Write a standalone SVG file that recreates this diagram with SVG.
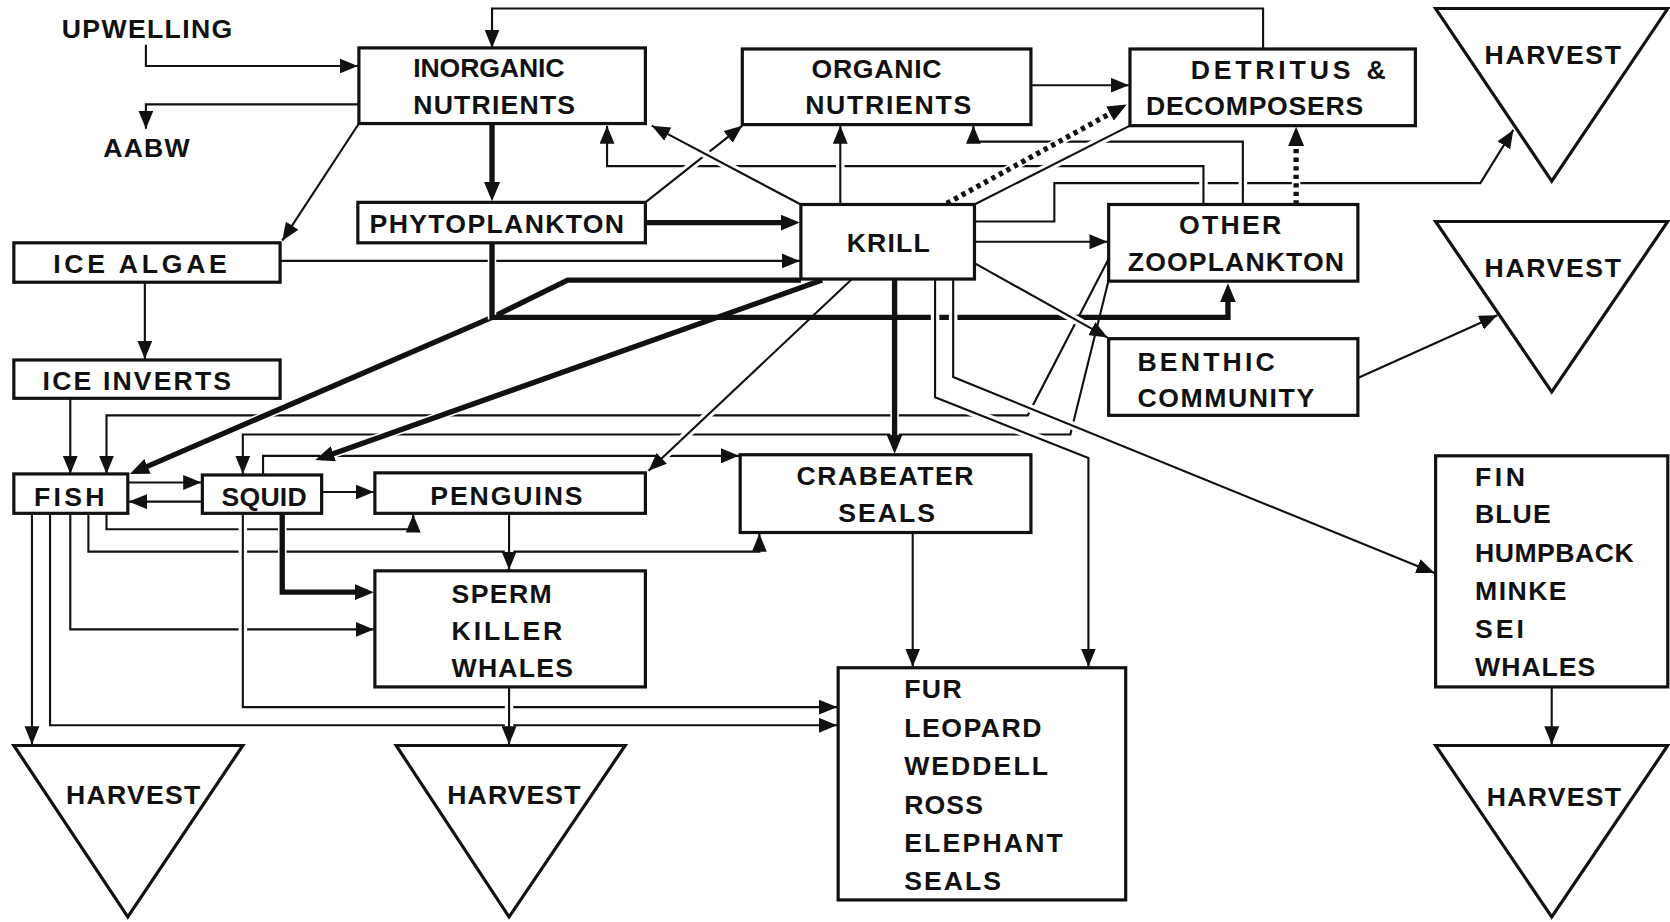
<svg xmlns="http://www.w3.org/2000/svg" width="1670" height="922" viewBox="0 0 1670 922">
<style>
.b{fill:#fff;stroke:#111;stroke-width:3}
.t{font-family:"Liberation Sans",Arial,sans-serif;font-weight:bold;font-size:25px;fill:#111}
.c{fill:none;stroke:#111;stroke-width:2}
.k{fill:none;stroke:#111;stroke-width:5}
.d{fill:none;stroke:#111;stroke-width:5;stroke-dasharray:4 4}
.h{fill:none;stroke:#fff;stroke-width:8}
.a{marker-end:url(#a)}
.ak{marker-end:url(#ak)}
</style>
<defs>
<marker id="a" markerUnits="userSpaceOnUse" viewBox="0 0 17 14" markerWidth="17" markerHeight="14" refX="17" refY="7" orient="auto"><path d="M0,0 L17,7 L0,14 Z" fill="#111"/></marker>
<marker id="ak" markerUnits="userSpaceOnUse" viewBox="0 0 18 15" markerWidth="18" markerHeight="15" refX="12" refY="7.5" orient="auto"><path d="M0,0 L18,7.5 L0,15 Z" fill="#111"/></marker>
</defs>
<rect width="1670" height="922" fill="#fff"/>
<g transform="scale(1.065)">
<g id="connectors">
<path class="c a" d="M137,42 V62 H336"/>
<path class="c a" d="M337,98 H137 V121"/>
<path class="c a" d="M1186,46 V8 H462 V45"/>
<path class="c a" d="M968,80 H1060"/>
<path class="c a" d="M915,208 H990 V172 H1390 L1421,122"/>
<path class="c a" d="M915,227 H1040"/>
<path class="c a" d="M263,245 H751"/>
<path class="c a" d="M1041,243 L965,390 H100 V445"/>
<path class="c a" d="M1041,263 L1005,408 H228 V445"/>
<path class="c a" d="M100,482 V497 H388 V483"/>
<path class="c a" d="M83,482 V518 H713 V501"/>
<path class="c a" d="M66,482 V591 H351"/>
<path class="c a" d="M47,482 V681 H786"/>
<path class="c a" d="M247,446 V428 H694"/>

<path class="h" d="M1130,192 V156 H570 V118"/><path class="c a" d="M1130,192 V156 H570 V118"/>
<path class="h" d="M1167,192 V133 H914 V118"/><path class="c a" d="M1167,192 V133 H914 V118"/>
<path class="h" d="M789,192 V118"/><path class="c a" d="M789,192 V118"/>
<path class="h" d="M606,190 L697,118"/><path class="c a" d="M606,190 L697,118"/>
<path class="h" d="M752,192 L612,118"/><path class="c a" d="M752,192 L612,118"/>
<path class="h" d="M889,191 L1052.7,100.9"/><path class="d ak" d="M889,191 L1052.7,100.9"/>
<path class="h" d="M915,192 L1061,118"/><path class="c" d="M915,192 L1061,118"/>
<path class="h" d="M1217,192 V125"/><path class="d ak" d="M1217,192 V125"/>
<path class="h" d="M337,116 L265,226"/><path class="c a" d="M337,116 L265,226"/>
<path class="k ak" d="M462,116 V183"/>
<path class="k ak" d="M606,209 H745"/>
<path class="c a" d="M136,265 V337"/>
<path class="c a" d="M66,374 V445"/>
<path class="c a" d="M120,453 H189"/>
<path class="c a" d="M190,471 H121"/>
<path class="c a" d="M302,462 H351"/>
<path class="h" d="M752,263 H533 L462,298 L127.5,442.6"/><path class="k ak" d="M752,263 H533 L462,298 L127.5,442.6"/>
<path class="h" d="M772,263 L301.7,430"/><path class="k ak" d="M772,263 L301.7,430"/>
<path class="h" d="M800,262 L609,442"/><path class="c a" d="M800,262 L609,442"/>
<path class="h" d="M840,262 V420"/><path class="k ak" d="M840,262 V420"/>
<path class="h" d="M462,228 V300"/><path class="k" d="M462,228 V300.5"/>
<path class="k ak" d="M462,298 H1153 V272"/>
<path class="h" d="M878,262 V373 L1022,430 V626"/><path class="c a" d="M878,262 V373 L1022,430 V626"/>
<path class="h" d="M895,262 V354 L1347,538"/><path class="c a" d="M895,262 V354 L1347,538"/>
<path class="h" d="M915,247 L1040,317"/><path class="c a" d="M915,247 L1040,317"/>
<path class="h" d="M265,482 V556 H345"/><path class="k ak" d="M265,482 V556 H345"/>
<path class="h" d="M228,482 V664 H786"/><path class="c a" d="M228,482 V664 H786"/>
<path class="h" d="M478,482 V535"/><path class="c a" d="M478,482 V535"/>
<path class="h" d="M478,645 V699"/><path class="c a" d="M478,645 V699"/>
<path class="c a" d="M857,500 V626"/>
<path class="c a" d="M1457,645 V699"/>
<path class="c a" d="M30,482 V699"/>
<path class="c a" d="M1275,355 L1406,296"/>
</g>

<g id="upwelling"><text class="t" x="58" y="36" textLength="160" lengthAdjust="spacing">UPWELLING</text></g>
<g id="aabw"><text class="t" x="97" y="147" textLength="81" lengthAdjust="spacing">AABW</text></g>
<g id="inorganic"><rect class="b" x="337" y="45" width="269" height="71"/><text class="t" x="388" y="72" textLength="142" lengthAdjust="spacing">INORGANIC</text><text class="t" x="388" y="107" textLength="152" lengthAdjust="spacing">NUTRIENTS</text></g>
<g id="organic"><rect class="b" x="697" y="46" width="271" height="71"/><text class="t" x="762" y="73" textLength="122" lengthAdjust="spacing">ORGANIC</text><text class="t" x="756" y="107" textLength="156" lengthAdjust="spacing">NUTRIENTS</text></g>
<g id="detritus"><rect class="b" x="1061" y="46" width="268" height="72"/><text class="t" x="1118" y="74"><tspan textLength="150" lengthAdjust="spacing">DETRITUS</tspan> <tspan x="1283">&amp;</tspan></text><text class="t" x="1076" y="108" textLength="204" lengthAdjust="spacing">DECOMPOSERS</text></g>
<g id="harvest1"><polygon class="b" points="1348,8 1566,8 1457,170"/><text class="t" x="1394" y="60" textLength="128" lengthAdjust="spacing">HARVEST</text></g>
<g id="phytoplankton"><rect class="b" x="336" y="190" width="270" height="38"/><text class="t" x="347" y="219" textLength="239" lengthAdjust="spacing">PHYTOPLANKTON</text></g>
<g id="krill"><rect class="b" x="752" y="192" width="163" height="70"/><text class="t" x="795" y="237" textLength="78" lengthAdjust="spacing">KRILL</text></g>
<g id="zooplankton"><rect class="b" x="1041" y="192" width="234" height="72"/><text class="t" x="1107" y="220" textLength="96" lengthAdjust="spacing">OTHER</text><text class="t" x="1059" y="254" textLength="203" lengthAdjust="spacing">ZOOPLANKTON</text></g>
<g id="harvest2"><polygon class="b" points="1348,208 1566,208 1457,368"/><text class="t" x="1394" y="260" textLength="128" lengthAdjust="spacing">HARVEST</text></g>
<g id="icealgae"><rect class="b" x="13" y="228" width="250" height="37"/><text class="t" x="50" y="256" textLength="163" lengthAdjust="spacing">ICE  ALGAE</text></g>
<g id="iceinverts"><rect class="b" x="13" y="338" width="250" height="36"/><text class="t" x="40" y="366" textLength="177" lengthAdjust="spacing">ICE  INVERTS</text></g>
<g id="benthic"><rect class="b" x="1041" y="318" width="234" height="72"/><text class="t" x="1068" y="348" textLength="129" lengthAdjust="spacing">BENTHIC</text><text class="t" x="1068" y="382" textLength="166" lengthAdjust="spacing">COMMUNITY</text></g>
<g id="fish"><rect class="b" x="13" y="445" width="107" height="37"/><text class="t" x="32" y="475" textLength="66" lengthAdjust="spacing">FISH</text></g>
<g id="squid"><rect class="b" x="190" y="446" width="112" height="36"/><text class="t" x="208" y="475" textLength="80" lengthAdjust="spacing">SQUID</text></g>
<g id="penguins"><rect class="b" x="352" y="444" width="254" height="38"/><text class="t" x="404" y="474" textLength="143" lengthAdjust="spacing">PENGUINS</text></g>
<g id="crabeater"><rect class="b" x="695" y="427" width="273" height="73"/><text class="t" x="748" y="455" textLength="166" lengthAdjust="spacing">CRABEATER</text><text class="t" x="787" y="490" textLength="91" lengthAdjust="spacing">SEALS</text></g>
<g id="toothed"><rect class="b" x="352" y="536" width="254" height="109"/><text class="t" x="424" y="566" textLength="94" lengthAdjust="spacing">SPERM</text><text class="t" x="424" y="601" textLength="104" lengthAdjust="spacing">KILLER</text><text class="t" x="424" y="636" textLength="114" lengthAdjust="spacing">WHALES</text></g>
<g id="baleen"><rect class="b" x="1348" y="428" width="218" height="217"/><text class="t" x="1385" y="456" textLength="47" lengthAdjust="spacing">FIN</text><text class="t" x="1385" y="491" textLength="71" lengthAdjust="spacing">BLUE</text><text class="t" x="1385" y="528" textLength="149" lengthAdjust="spacing">HUMPBACK</text><text class="t" x="1385" y="563" textLength="86" lengthAdjust="spacing">MINKE</text><text class="t" x="1385" y="599" textLength="46" lengthAdjust="spacing">SEI</text><text class="t" x="1385" y="635" textLength="113" lengthAdjust="spacing">WHALES</text></g>
<g id="seals"><rect class="b" x="787" y="627" width="270" height="218"/><text class="t" x="849" y="655" textLength="54" lengthAdjust="spacing">FUR</text><text class="t" x="849" y="692" textLength="129" lengthAdjust="spacing">LEOPARD</text><text class="t" x="849" y="728" textLength="135" lengthAdjust="spacing">WEDDELL</text><text class="t" x="849" y="764" textLength="74" lengthAdjust="spacing">ROSS</text><text class="t" x="849" y="800" textLength="149" lengthAdjust="spacing">ELEPHANT</text><text class="t" x="849" y="836" textLength="91" lengthAdjust="spacing">SEALS</text></g>
<g id="harvest3"><polygon class="b" points="13,700 228,700 120,861"/><text class="t" x="62" y="755" textLength="126" lengthAdjust="spacing">HARVEST</text></g>
<g id="harvest4"><polygon class="b" points="372,700 587,700 478,861"/><text class="t" x="420" y="755" textLength="125" lengthAdjust="spacing">HARVEST</text></g>
<g id="harvest5"><polygon class="b" points="1348,700 1566,700 1457,861"/><text class="t" x="1396" y="757" textLength="126" lengthAdjust="spacing">HARVEST</text></g>
</g>
</svg>
